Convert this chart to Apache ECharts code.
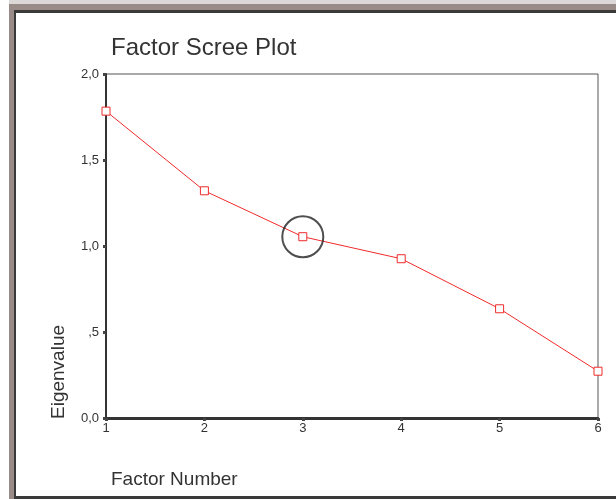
<!DOCTYPE html>
<html>
<head>
<meta charset="utf-8">
<script src="https://cdn.jsdelivr.net/npm/echarts@6/dist/echarts.min.js"></script>
<style>
html,body{margin:0;padding:0;background:#fff;width:616px;height:499px;overflow:hidden;}
.f{position:absolute;}
#chart{position:absolute;left:0;top:0;width:616px;height:499px;}
</style>
</head>
<body>
<div class="f" style="left:9px;top:0;right:0;height:5px;background:#dcd8d7"></div>
<div class="f" style="left:9px;top:4px;right:0;bottom:0;background:#998c88"></div>
<div class="f" style="left:14px;top:10px;right:0;bottom:0;background:#3a3a3a"></div>
<div class="f" style="left:16px;top:13px;right:0;bottom:3px;background:#ffffff"></div>
<div id="chart"></div>
<script>
const factors = [1, 2, 3, 4, 5, 6];
const eigenvalues = [1.784, 1.321, 1.054, 0.926, 0.635, 0.272];
const yTickValues = [0, 0.5, 1, 1.5, 2];
const yTickLabels = ['0,0', ',5', '1,0', '1,5', '2,0'];
const highlightedFactor = 3;

const chart = echarts.init(document.getElementById('chart'), null, {renderer: 'canvas'});
const lineData = factors.map((f, i) => [f, eigenvalues[i]]);
const hi = factors.indexOf(highlightedFactor);

chart.setOption({
  backgroundColor: 'transparent',
  animation: false,
  title: [
    {text: 'Factor Scree Plot', left: 106, top: 31,
     textStyle: {fontFamily: 'Liberation Sans, Arial', fontSize: 24, fontWeight: 'normal', color: '#333'}},
    {text: 'Factor Number', left: 106, top: 465,
     textStyle: {fontFamily: 'Liberation Sans, Arial', fontSize: 19, fontWeight: 'normal', color: '#333'}}
  ],
  graphic: [
    {type: 'text', x: 59, y: 419, rotation: Math.PI / 2,
     style: {text: 'Eigenvalue', fontFamily: 'Liberation Sans, Arial', fontSize: 19,
             fill: '#333', textAlign: 'left', textVerticalAlign: 'middle'}}
  ],
  grid: {left: 106, right: 18, top: 74, bottom: 81, show: true, borderColor: '#555', borderWidth: 1},
  xAxis: {
    type: 'value', min: 1, max: 6, interval: 1,
    splitLine: {show: false},
    axisLine: {show: true, lineStyle: {color: '#333', width: 3}},
    axisTick: {show: true, length: 3, lineStyle: {color: '#444', width: 3}},
    axisLabel: {color: '#333', fontSize: 13, fontFamily: 'Liberation Sans, Arial', margin: 4}
  },
  yAxis: {
    type: 'value', min: 0, max: 2, interval: 0.5,
    splitLine: {show: false},
    axisLine: {show: true, lineStyle: {color: '#333', width: 2}},
    axisTick: {show: true, length: 3, lineStyle: {color: '#444', width: 3}},
    axisLabel: {color: '#333', fontSize: 13, fontFamily: 'Liberation Sans, Arial', margin: 7,
      formatter: v => { const k = yTickValues.indexOf(v); return k >= 0 ? yTickLabels[k] : ''; }}
  },
  series: [
    {
      type: 'line', data: lineData,
      symbol: 'rect', symbolSize: 8,
      lineStyle: {color: '#f02a2a', width: 1},
      itemStyle: {color: '#ffffff', borderColor: '#f02a2a', borderWidth: 1},
      z: 3
    },
    {
      type: 'scatter', data: [lineData[hi]],
      symbol: 'circle', symbolSize: 41,
      itemStyle: {color: 'rgba(0,0,0,0)', borderColor: '#222', borderWidth: 2},
      silent: true, z: 4
    }
  ]
});
</script>
</body>
</html>
